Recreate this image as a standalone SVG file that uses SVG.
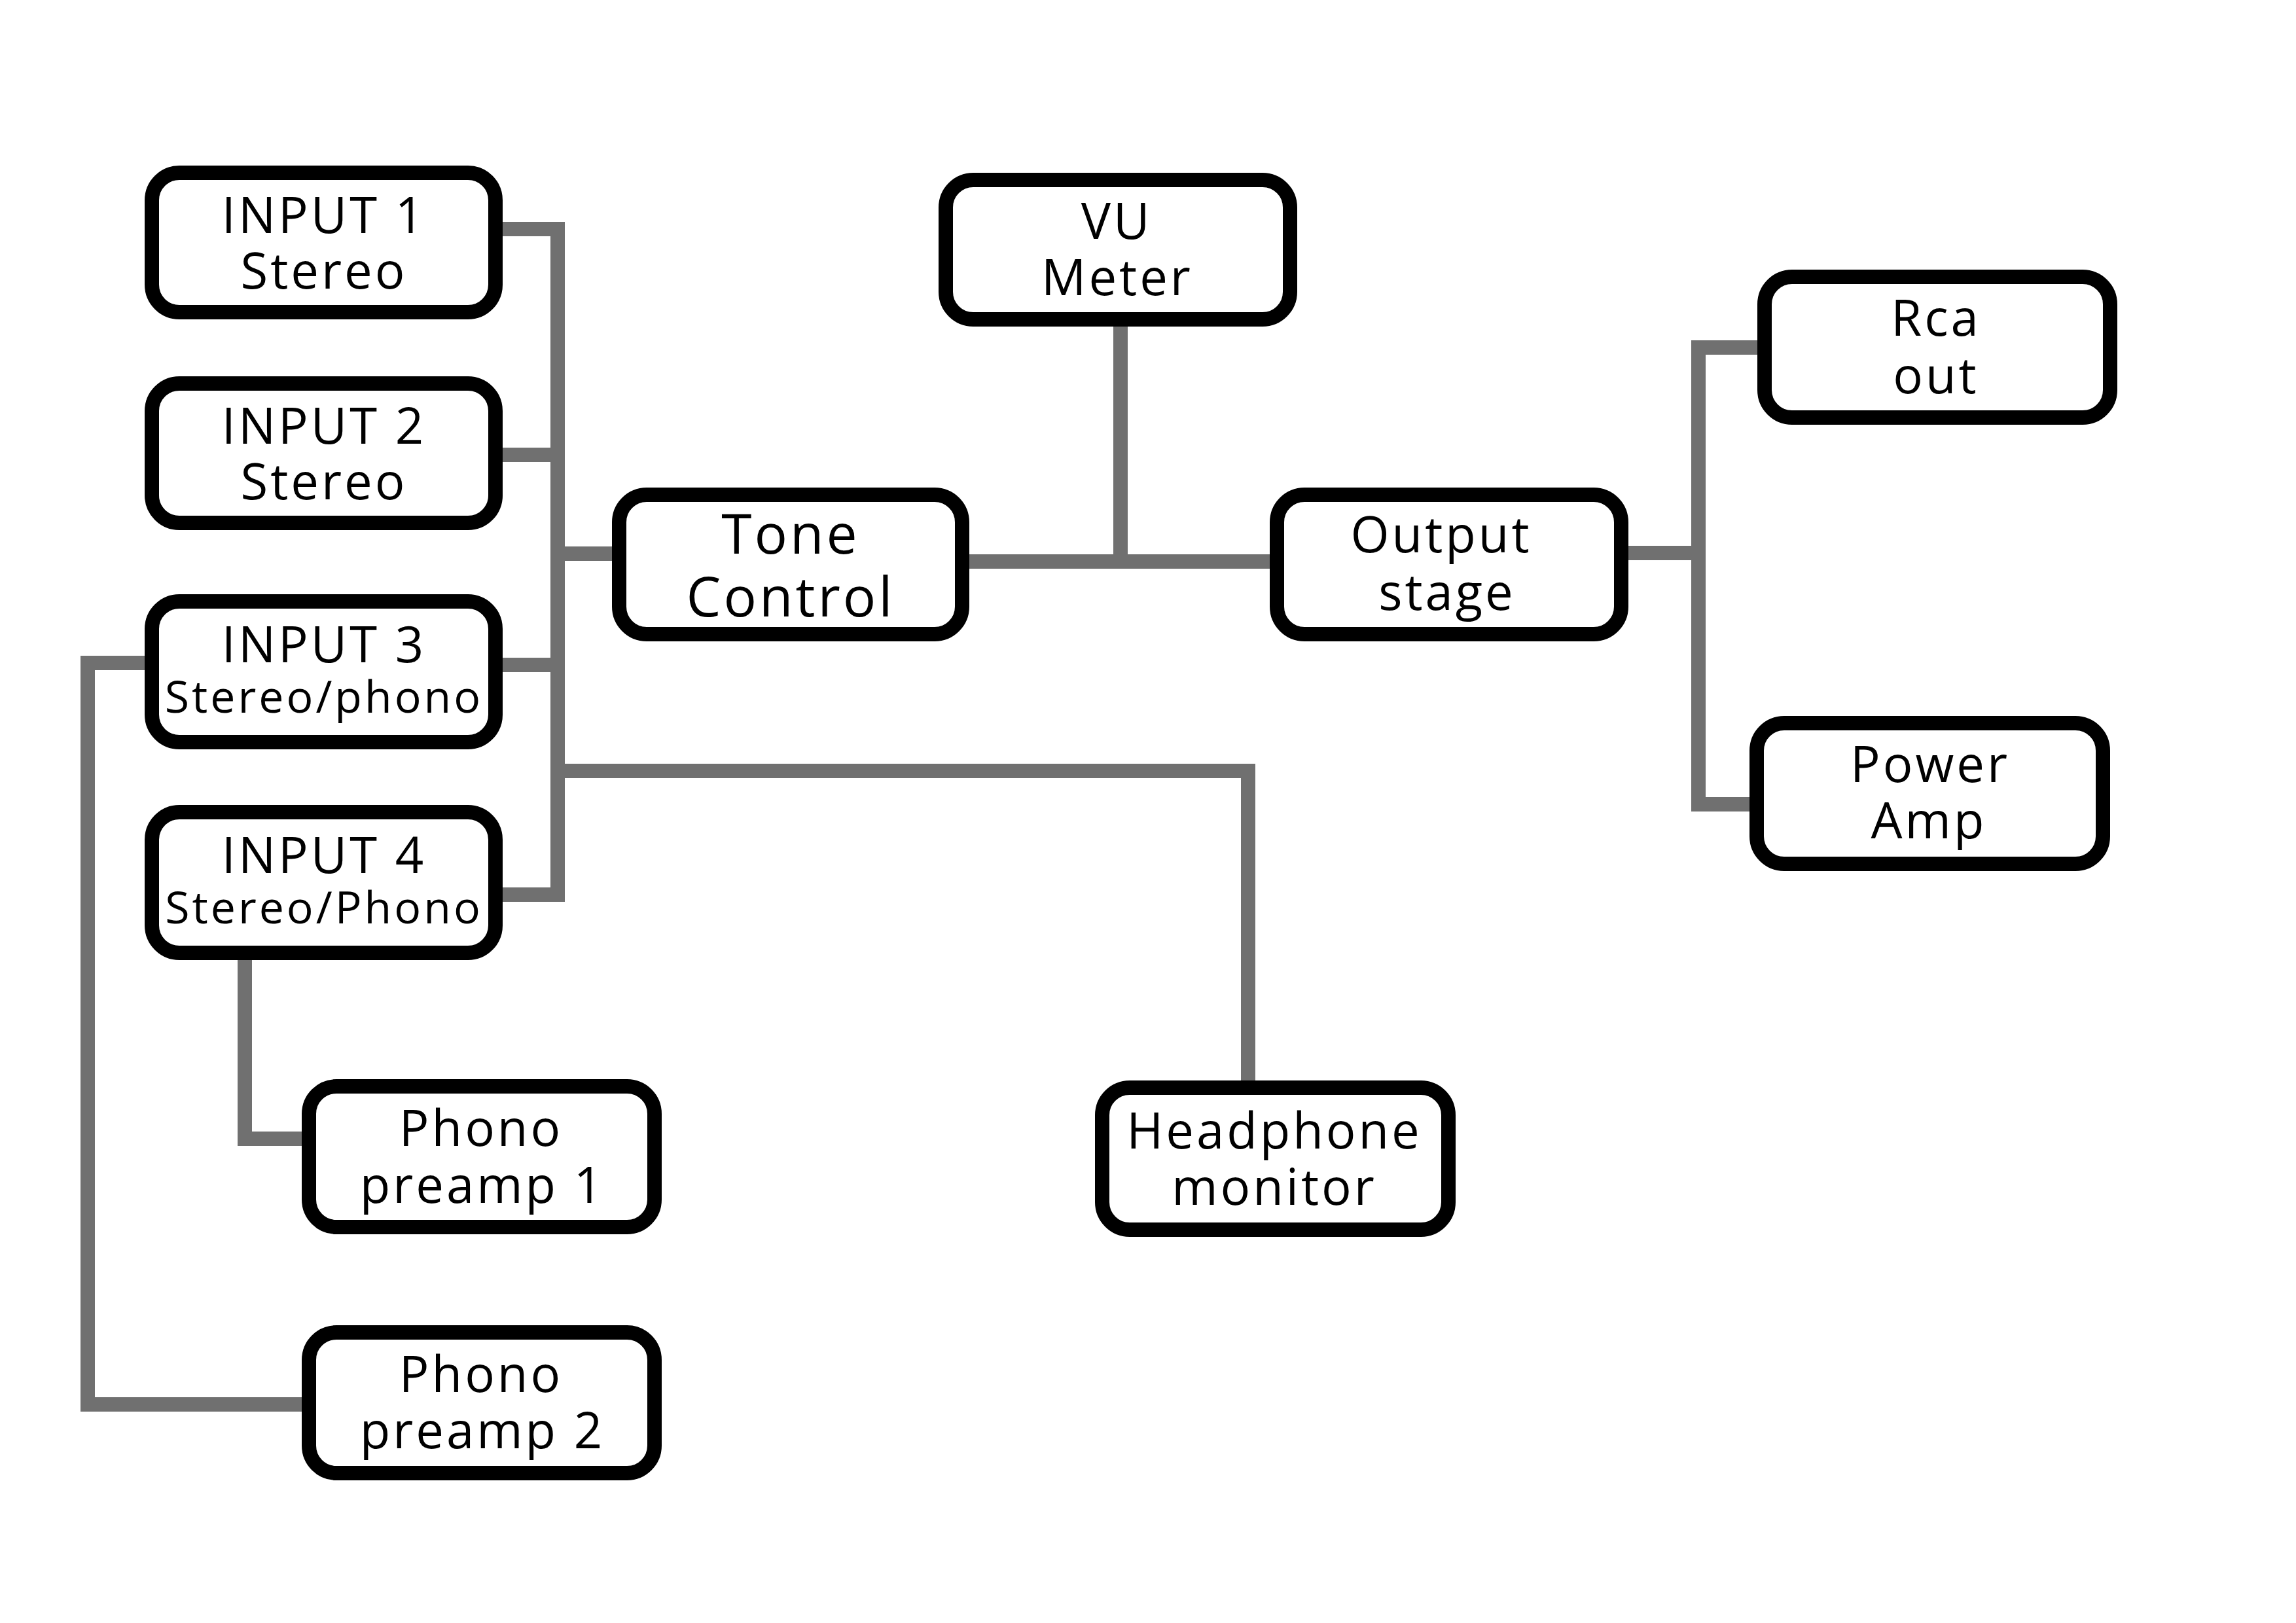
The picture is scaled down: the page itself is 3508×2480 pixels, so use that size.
<svg xmlns="http://www.w3.org/2000/svg" width="3508" height="2480" viewBox="0 0 3508 2480">
<style>
.bg{fill:#ffffff}
.wire{fill:none;stroke:#707070;stroke-width:22;stroke-linejoin:miter;stroke-linecap:butt}
.box{fill:#ffffff;stroke:#000000;stroke-width:22}
.t{font-family:"Open Sans","Noto Sans","Liberation Sans",sans-serif;font-size:76px;letter-spacing:4px;fill:#000000;text-anchor:middle}
.big{font-size:84px}
.sm{font-size:68px}
</style>
<rect class="bg" x="0" y="0" width="3508" height="2480"/>
<g id="connectors">
<path class="wire" d="M760,350 H852 V1367 H760"/>
<path class="wire" d="M760,695 H852"/>
<path class="wire" d="M760,1016 H852"/>
<path class="wire" d="M852,846 H945"/>
<path class="wire" d="M852,1178 H1907 V1660"/>
<path class="wire" d="M1475,858 H1950"/>
<path class="wire" d="M1712,490 V858"/>
<path class="wire" d="M2480,845 H2595"/>
<path class="wire" d="M2695,531 H2595 V1229 H2683"/>
<path class="wire" d="M230,1013 H134 V2146 H470"/>
<path class="wire" d="M374,1460 V1740 H470"/>
</g>
<g id="input1"><rect class="box" x="232" y="264" width="525" height="213" rx="42"/><text class="t" x="495" y="356">INPUT 1</text><text class="t" x="495" y="441">Stereo</text></g>
<g id="input2"><rect class="box" x="232" y="586" width="525" height="213" rx="42"/><text class="t" x="495" y="678">INPUT 2</text><text class="t" x="495" y="763">Stereo</text></g>
<g id="input3"><rect class="box" x="232" y="919" width="525" height="215" rx="42"/><text class="t" x="495" y="1012">INPUT 3</text><text class="t sm" x="495" y="1089">Stereo/phono</text></g>
<g id="input4"><rect class="box" x="232" y="1241" width="525" height="215" rx="42"/><text class="t" x="495" y="1334">INPUT 4</text><text class="t sm" x="495" y="1411">Stereo/Phono</text></g>
<g id="tone"><rect class="box" x="946" y="756" width="524" height="213" rx="42"/><text class="t big" x="1208" y="846">Tone</text><text class="t big" x="1208" y="942">Control</text></g>
<g id="vu"><rect class="box" x="1445" y="275" width="526" height="213" rx="42"/><text class="t" x="1706" y="365">VU</text><text class="t" x="1707" y="451">Meter</text></g>
<g id="output"><rect class="box" x="1951" y="756" width="526" height="213" rx="42"/><text class="t" x="2202" y="844">Output</text><text class="t" x="2211" y="932">stage</text></g>
<g id="rca"><rect class="box" x="2696" y="423" width="528" height="215" rx="42"/><text class="t" x="2958" y="513">Rca</text><text class="t" x="2958" y="601">out</text></g>
<g id="power"><rect class="box" x="2684" y="1105" width="529" height="215" rx="42"/><text class="t" x="2949" y="1195">Power</text><text class="t" x="2947" y="1281">Amp</text></g>
<g id="phono1"><rect class="box" x="472" y="1660" width="528" height="215" rx="42"/><text class="t" x="735" y="1751">Phono</text><text class="t" x="737" y="1838">preamp 1</text></g>
<g id="phono2"><rect class="box" x="472" y="2036" width="528" height="215" rx="42"/><text class="t" x="735" y="2127">Phono</text><text class="t" x="737" y="2213">preamp 2</text></g>
<g id="headphone"><rect class="box" x="1684" y="1662" width="529" height="217" rx="42"/><text class="t" x="1947" y="1755">Headphone</text><text class="t" x="1947" y="1841">monitor</text></g>
</svg>
